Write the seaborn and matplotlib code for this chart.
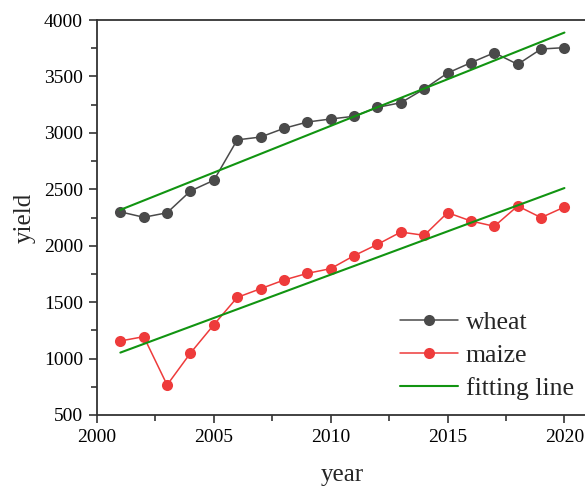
import numpy as np
import pandas as pd
import matplotlib
matplotlib.use("Agg")
import matplotlib.pyplot as plt
import seaborn as sns
from matplotlib.ticker import MultipleLocator
from matplotlib.lines import Line2D

years = list(range(2001, 2021))
wheat = [2300, 2252, 2292, 2485, 2580, 2938, 2963, 3040, 3096, 3123,
         3147, 3226, 3267, 3389, 3530, 3622, 3710, 3607, 3743, 3755]
maize = [1156, 1194, 766, 1049, 1300, 1542, 1619, 1696, 1755, 1797,
         1912, 2012, 2121, 2092, 2293, 2219, 2172, 2352, 2249, 2343]

sns.set_theme(style="ticks")
plt.rcParams["font.family"] = ["Liberation Serif", "DejaVu Serif"]

df = pd.DataFrame({"year": years, "wheat": wheat, "maize": maize})

fig = plt.figure(figsize=(5.85, 4.88), dpi=100)
ax = fig.add_axes([0.1658, 0.1496, 0.839, 0.8094])

wheat_c = "#4a4a4a"
maize_c = "#ee3b3b"
fit_c = "#119411"

sns.lineplot(data=df, x="year", y="wheat", ax=ax, color=wheat_c, lw=1.1,
             marker="o", markersize=8, markeredgewidth=0, markerfacecolor=wheat_c)
sns.lineplot(data=df, x="year", y="maize", ax=ax, color=maize_c, lw=1.1,
             marker="o", markersize=8, markeredgewidth=0, markerfacecolor=maize_c)

# least-squares trend for each crop
x = np.array(years, dtype=float)
for series in (wheat, maize):
    k, b = np.polyfit(x, np.array(series, dtype=float), 1)
    fit = pd.DataFrame({"year": years, "fit": k * x + b})
    sns.lineplot(data=fit, x="year", y="fit", ax=ax, color=fit_c, lw=1.5)

ax.set_xlim(2000, 2021)
ax.set_ylim(500, 4000)
ax.xaxis.set_major_locator(MultipleLocator(5))
ax.xaxis.set_minor_locator(MultipleLocator(2.5))
ax.yaxis.set_major_locator(MultipleLocator(500))
ax.yaxis.set_minor_locator(MultipleLocator(250))
ax.tick_params(which="major", direction="out", length=6, width=1.1,
               labelsize=14, color="#222222", labelcolor="black", pad=4)
ax.tick_params(which="minor", direction="out", length=4, width=1.1, color="#222222")
for side in ("left", "bottom", "top", "right"):
    ax.spines[side].set_linewidth(1.3)
    ax.spines[side].set_color("#333333")

ax.set_xlabel("year", fontsize=18, labelpad=13)
ax.set_ylabel("yield", fontsize=18, labelpad=6)

handles = [
    Line2D([], [], color=wheat_c, lw=1.1, marker="o", markersize=8, markeredgewidth=0),
    Line2D([], [], color=maize_c, lw=1.1, marker="o", markersize=8, markeredgewidth=0),
    Line2D([], [], color=fit_c, lw=1.5),
]
ax.legend(handles, ["wheat", "maize", "fitting line"], loc="lower right",
          bbox_to_anchor=(1.003, 0.0), frameon=False, fontsize=18.5,
          handlelength=2.25, handletextpad=0.3, labelspacing=0.38,
          borderaxespad=0.2)

fig.savefig("out.png", dpi=100)
